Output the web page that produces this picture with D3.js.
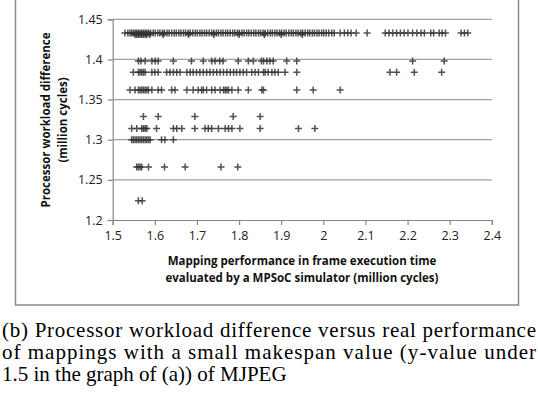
<!DOCTYPE html>
<html>
<head>
<meta charset="utf-8">
<script src="https://cdn.jsdelivr.net/npm/d3@7"></script>
<style>
body { margin: 0; background: #fff; }
</style>
</head>
<body>
<div id="chart"></div>
<script>
// Chart size
var width = 538;
var height = 402;

// Axis ticks
var xTicks = [1.5, 1.6, 1.7, 1.8, 1.9, 2.0, 2.1, 2.2, 2.3, 2.4];
var yTicks = [1.2, 1.25, 1.3, 1.35, 1.4, 1.45];

// Each row of points shares a y value
var rowY = [1.433, 1.431, 1.398, 1.384, 1.362, 1.329, 1.314, 1.300, 1.266, 1.224];

var rowX = [
  // 1.433
  [1.529, 1.536, 1.541, 1.545, 1.549, 1.553, 1.557, 1.561, 1.565, 1.569, 1.573, 1.577, 1.581, 1.585,
   1.590, 1.596, 1.601, 1.607, 1.612, 1.618, 1.623, 1.629, 1.634, 1.640, 1.646, 1.651, 1.657, 1.662,
   1.668, 1.673, 1.679, 1.684, 1.690, 1.696, 1.701, 1.707, 1.712, 1.718, 1.723, 1.729, 1.735, 1.740,
   1.746, 1.751, 1.757, 1.762, 1.768, 1.773, 1.779, 1.785, 1.790, 1.796, 1.801, 1.807, 1.812, 1.818,
   1.823, 1.829, 1.835, 1.840, 1.846, 1.851, 1.857, 1.862, 1.868, 1.874, 1.879, 1.885, 1.890, 1.896,
   1.901, 1.907, 1.912, 1.918, 1.924, 1.929, 1.935, 1.940, 1.946, 1.951, 1.957, 1.963, 1.968, 1.974,
   1.979, 1.985, 1.990, 1.996, 2.001, 2.007, 2.013, 2.020, 2.026, 2.040, 2.050, 2.058, 2.066, 2.078,
   2.104, 2.147, 2.156, 2.165, 2.174, 2.183, 2.192, 2.201, 2.212, 2.222, 2.232, 2.240, 2.255, 2.262,
   2.275, 2.282, 2.290, 2.327, 2.335, 2.343],
  // 1.431 (dense cluster)
  [1.553, 1.557, 1.561, 1.565, 1.569, 1.573, 1.577, 1.581, 1.588, 1.62, 1.68, 1.74, 1.80, 1.86, 1.90, 1.95],
  // 1.398
  [1.561, 1.567, 1.577, 1.593, 1.601, 1.608, 1.644, 1.687, 1.715, 1.735, 1.743, 1.754, 1.762, 1.798,
   1.822, 1.834, 1.853, 1.858, 1.866, 1.873, 1.881, 1.913, 1.937, 2.212, 2.287],
  // 1.384
  [1.549, 1.561, 1.565, 1.569, 1.573, 1.577, 1.593, 1.600, 1.608, 1.628, 1.636, 1.644, 1.652, 1.660,
   1.676, 1.684, 1.691, 1.699, 1.707, 1.715, 1.723, 1.731, 1.739, 1.747, 1.755, 1.763, 1.771, 1.779,
   1.787, 1.794, 1.802, 1.810, 1.818, 1.830, 1.838, 1.846, 1.858, 1.862, 1.869, 1.878, 1.885, 1.893,
   1.909, 1.937, 2.158, 2.174, 2.216, 2.281],
  // 1.362
  [1.541, 1.553, 1.561, 1.565, 1.569, 1.573, 1.577, 1.581, 1.585, 1.593, 1.608, 1.616, 1.640, 1.648,
   1.676, 1.691, 1.703, 1.711, 1.715, 1.723, 1.735, 1.743, 1.755, 1.763, 1.767, 1.771, 1.775, 1.783,
   1.798, 1.822, 1.854, 1.858, 1.937, 1.976, 2.040],
  // 1.329
  [1.573, 1.608, 1.695, 1.786, 1.850],
  // 1.314
  [1.545, 1.557, 1.569, 1.573, 1.577, 1.581, 1.604, 1.644, 1.652, 1.664, 1.695, 1.719, 1.727, 1.735,
   1.751, 1.767, 1.775, 1.783, 1.802, 1.850, 1.941, 1.980],
  // 1.300
  [1.545, 1.549, 1.553, 1.557, 1.561, 1.565, 1.569, 1.573, 1.577, 1.581, 1.585, 1.589, 1.616, 1.624, 1.644],
  // 1.266
  [1.557, 1.561, 1.565, 1.569, 1.585, 1.623, 1.672, 1.757, 1.797],
  // 1.224
  [1.561, 1.570]
];

var captionLines = [
  "(b) Processor workload difference versus real performance",
  "of mappings with a small makespan value (y-value under",
  "1.5 in the graph of (a)) of MJPEG"
];

var svg = d3.select("#chart")
  .append("svg")
  .attr("width", width)
  .attr("height", height);

// Soft blur like the scanned markers
svg.append("defs").append("filter")
  .attr("id", "soft")
  .append("feGaussianBlur")
  .attr("stdDeviation", 0.45);

// Outer frame of the chart
svg.append("rect")
  .attr("x", 15.5)
  .attr("y", -1)
  .attr("width", 503)
  .attr("height", 306)
  .style("fill", "none")
  .style("stroke", "#8a8a8a")
  .style("stroke-width", 1.5);

var x = d3.scaleLinear().domain([1.5, 2.4]).range([112.7, 491.8]);
var y = d3.scaleLinear().domain([1.2, 1.45]).range([220, 19.3]);

// Gridlines
svg.selectAll("line.grid")
  .data(yTicks.slice(1))
  .enter()
  .append("line")
  .attr("class", "grid")
  .attr("x1", x(1.5))
  .attr("x2", x(2.4))
  .attr("y1", d => y(d))
  .attr("y2", d => y(d))
  .style("stroke", "#a0a0a0")
  .style("stroke-width", 1.2);

// Axes
var xAxis = d3.axisBottom(x).tickValues(xTicks).tickSize(5).tickPadding(6)
  .tickFormat(d => +d.toFixed(1));
var yAxis = d3.axisLeft(y).tickValues(yTicks).tickSize(5).tickPadding(5)
  .tickFormat(d => +d.toFixed(2));

var gx = svg.append("g").attr("transform", "translate(0," + y(1.2) + ")").call(xAxis);
var gy = svg.append("g").attr("transform", "translate(" + x(1.5) + ",0)").call(yAxis);

[gx, gy].forEach(function(g){
  g.selectAll("path, line").style("stroke", "#888").style("stroke-width", 1.2);
  g.selectAll("text")
    .style("font-family", "'Open Sans', sans-serif")
    .style("font-size", "12.5px")
    .style("fill", "#222");
});

// Points as plus markers
var points = [];
rowX.forEach(function(xs, i){
  xs.forEach(function(v){ points.push([v, rowY[i]]); });
});

svg.append("g")
  .attr("filter", "url(#soft)")
  .selectAll("path")
  .data(points)
  .enter()
  .append("path")
  .attr("d", d => {
    var px = x(d[0]), py = y(d[1]);
    return "M" + (px - 3.5) + "," + py + "H" + (px + 3.5) + "M" + px + "," + (py - 3.5) + "V" + (py + 3.5);
  })
  .style("stroke", "#333")
  .style("stroke-opacity", 0.85)
  .style("stroke-width", 1.5)
  .style("fill", "none");

// Axis titles
var xTitle = svg.append("text")
  .attr("text-anchor", "middle")
  .style("font-family", "'Open Sans', sans-serif")
  .style("font-size", "11.5px")
  .style("font-weight", "bold")
  .style("fill", "#111");
xTitle.append("tspan").attr("x", 302).attr("y", 265).text("Mapping performance in frame execution time");
xTitle.append("tspan").attr("x", 302).attr("y", 282).text("evaluated by a MPSoC simulator (million cycles)");

var yTitle = svg.append("text")
  .attr("text-anchor", "middle")
  .attr("transform", "translate(0,120) rotate(-90)")
  .style("font-family", "'Open Sans', sans-serif")
  .style("font-size", "11.5px")
  .style("font-weight", "bold")
  .style("fill", "#111");
yTitle.append("tspan").attr("x", 0).attr("y", 50).text("Processor workload difference");
yTitle.append("tspan").attr("x", 0).attr("y", 67).text("(million cycles)");

// Caption
svg.selectAll("text.caption")
  .data(captionLines)
  .enter()
  .append("text")
  .attr("class", "caption")
  .attr("x", 2)
  .attr("y", (d, i) => 337 + i * 22)
  .attr("textLength", (d, i) => i < 2 ? 534 : null)
  .attr("lengthAdjust", "spacing")
  .style("font-family", "'Liberation Serif', 'Times New Roman', serif")
  .style("font-size", "21px")
  .style("fill", "#000")
  .text(d => d);
</script>
</body>
</html>
